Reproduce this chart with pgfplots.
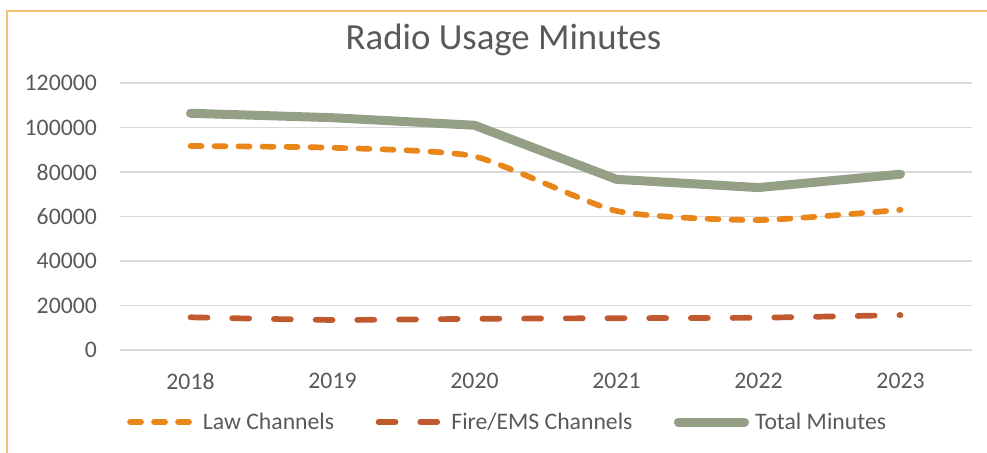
\documentclass[border=0pt]{standalone}
\usepackage{pgfplots}
\pgfplotsset{compat=1.18}
\usepackage{fontspec}
\setmainfont{Carlito}
\definecolor{lawc}{HTML}{E8861A}
\definecolor{firec}{HTML}{C05A2E}
\definecolor{totc}{HTML}{94A086}
\definecolor{gridc}{HTML}{D9D9D9}
\definecolor{txtc}{HTML}{595959}
\definecolor{bordc}{HTML}{F9BE76}
\pgfplotsset{totlegend/.style={legend image code/.code={\path (0bp,0bp) -- (62bp,0bp); \draw[##1, overlay] (0bp,0bp) -- (66bp,0bp);}}}
\begin{document}
\begin{tikzpicture}
\path[use as bounding box] (0,0) rectangle (987bp,453bp);
\draw[bordc, line width=2bp] (7bp,-5bp) -- (7bp,442bp) -- (995bp,442bp);
\begin{axis}[
  at={(119.5bp,103bp)}, anchor=south west,
  scale only axis, width=852bp, height=267bp,
  xmin=-0.5, xmax=5.5, ymin=0, ymax=120000,
  xtick={0,...,5}, xticklabels={2018,2019,2020,2021,2022,2023},
  ytick={0,20000,...,120000},
  scaled y ticks=false,
  /pgf/number format/fixed,
  /pgf/number format/1000 sep={},
  /pgf/number format/assume math mode=true,
  tick label style={font=\fontsize{23.7bp}{28bp}\selectfont, text=txtc, inner sep=0pt},
  yticklabel style={xshift=-22.5bp},
  xticklabel style={yshift=-23bp},
  major tick length=0pt,
  axis line style={draw=none},
  ymajorgrids, grid style={gridc, line width=1.5bp},
  title={Radio Usage Minutes},
  title style={at={(0.4507,1.1049)}, anchor=base, font=\fontsize{36.8bp}{44bp}\selectfont, text=txtc, inner sep=0pt},
  legend columns=3,
  legend cell align=left,
  legend style={at={(0.0088,-0.27)}, anchor=west, draw=none, fill=none, inner sep=0pt,
    font=\fontsize{23.7bp}{28bp}\selectfont, text=txtc, nodes={inner sep=0pt},
    /tikz/every odd column/.append style={column sep=10bp},
    /tikz/every even column/.append style={column sep=41.5bp}},
  legend image code/.code={\draw[#1] (0bp,0bp) -- (60bp,0bp);},
]
\addplot[lawc, line width=5.7bp, line cap=round, dash pattern=on 11bp off 13bp, smooth, tension=0.35]
  coordinates {(0,91700) (1,90900) (2,87000) (3,62500) (4,58400) (5,63000)};
\addlegendentry{Law Channels}
\addplot[firec, line width=5.7bp, line cap=round, dash pattern=on 17bp off 24.7bp, smooth, tension=0.35]
  coordinates {(0,14700) (1,13500) (2,14000) (3,14300) (4,14500) (5,15700)};
\addlegendentry{Fire/EMS Channels}
\addplot[totc, line width=9bp, line cap=round, line join=round, totlegend]
  coordinates {(0,106400) (1,104400) (2,101000) (3,76700) (4,73000) (5,79000)};
\addlegendentry{Total Minutes}
\end{axis}
\end{tikzpicture}
\end{document}
